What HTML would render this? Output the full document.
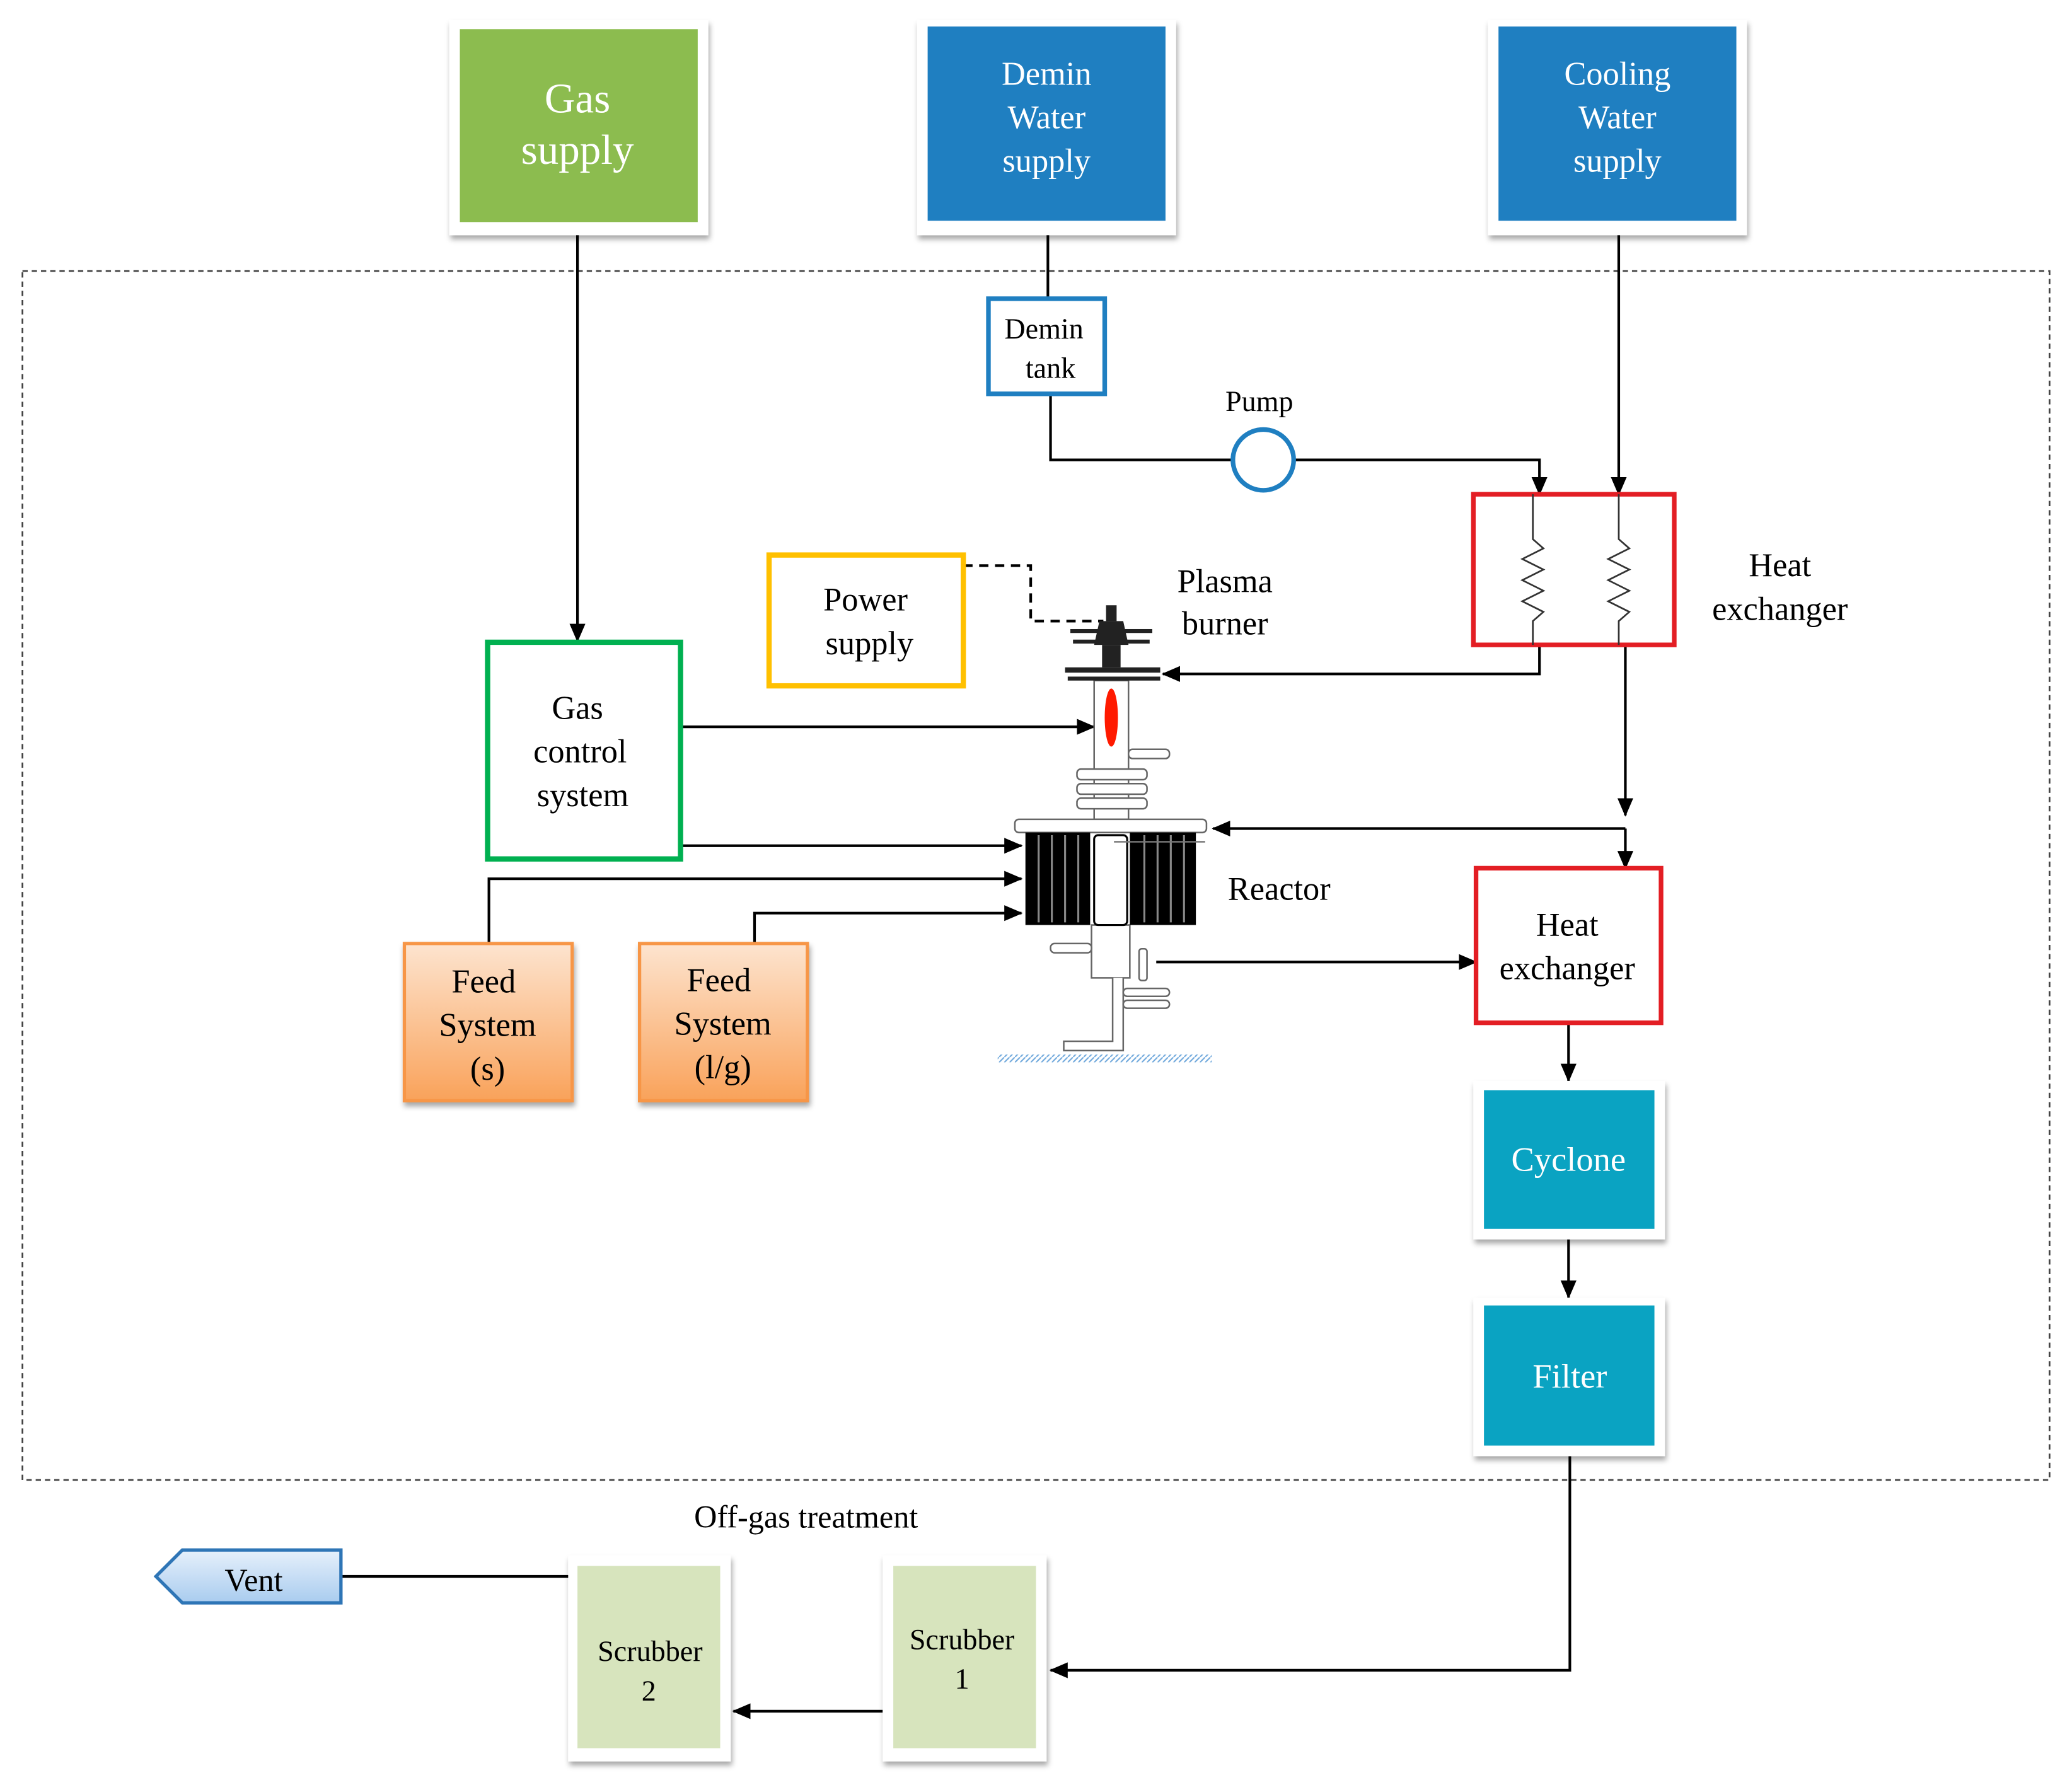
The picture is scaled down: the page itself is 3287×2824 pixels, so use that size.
<!DOCTYPE html>
<html><head><meta charset="utf-8"><style>
html,body{margin:0;padding:0;background:#fff}
svg{display:block}
text{font-family:"Liberation Serif",serif;text-anchor:middle}
</style></head><body>
<svg width="3287" height="2824" viewBox="0 0 1568 1347" xmlns="http://www.w3.org/2000/svg">
<defs>
<marker id="a" markerWidth="14" markerHeight="12" refX="13" refY="6" orient="auto" markerUnits="userSpaceOnUse"><path d="M0,0 L14,6 L0,12 z" fill="#000"/></marker>
<filter id="sh" x="-10%" y="-10%" width="130%" height="130%"><feDropShadow dx="1" dy="3" stdDeviation="2" flood-color="#000" flood-opacity="0.35"/></filter>
<linearGradient id="pe" x1="0" y1="0" x2="0" y2="1"><stop offset="0" stop-color="#fde4cf"/><stop offset="1" stop-color="#f9a25a"/></linearGradient>
<linearGradient id="vb" x1="0" y1="0" x2="0" y2="1"><stop offset="0" stop-color="#e6f0fb"/><stop offset="1" stop-color="#a9ccef"/></linearGradient>
<pattern id="hatch" width="4" height="4" patternUnits="userSpaceOnUse"><path d="M0,4 L4,0" stroke="#6fa8dc" stroke-width="1"/></pattern>
</defs>

<rect x="17" y="205" width="1534" height="915" fill="none" stroke="#444" stroke-width="1.3" stroke-dasharray="4,3"/>

<rect x="340" y="15" width="196" height="163" fill="#fff" filter="url(#sh)"/>
<rect x="348" y="22" width="180" height="146" fill="#8cbc4f"/>
<text x="437" y="85" font-size="32" fill="#fff">Gas</text>
<text x="437" y="124" font-size="32" fill="#fff">supply</text>

<rect x="694" y="15" width="196" height="163" fill="#fff" filter="url(#sh)"/>
<rect x="702" y="20" width="180" height="147" fill="#1f7fc1"/>
<text x="792" y="64" font-size="25" fill="#fff">Demin</text>
<text x="792" y="97" font-size="25" fill="#fff">Water</text>
<text x="792" y="130" font-size="25" fill="#fff">supply</text>

<rect x="1126" y="15" width="196" height="163" fill="#fff" filter="url(#sh)"/>
<rect x="1134" y="20" width="180" height="147" fill="#1f7fc1"/>
<text x="1224" y="64" font-size="25" fill="#fff">Cooling</text>
<text x="1224" y="97" font-size="25" fill="#fff">Water</text>
<text x="1224" y="130" font-size="25" fill="#fff">supply</text>

<g stroke="#000" stroke-width="2" fill="none">
<line x1="437" y1="178" x2="437" y2="485" marker-end="url(#a)"/>
<line x1="793" y1="178" x2="793" y2="226"/>
<polyline points="795,298 795,348 933,348"/>
<polyline points="979,348 1165,348 1165,374" marker-end="url(#a)"/>
<line x1="1225" y1="178" x2="1225" y2="374" marker-end="url(#a)"/>
<polyline points="1165,488 1165,510 880,510" marker-end="url(#a)"/>
<line x1="1230" y1="488" x2="1230" y2="617" marker-end="url(#a)"/>
<polyline points="1230,627 918,627" marker-end="url(#a)"/>
<line x1="1230" y1="627" x2="1230" y2="657" marker-end="url(#a)"/>
<line x1="875" y1="728" x2="1117" y2="728" marker-end="url(#a)"/>
<line x1="1187" y1="774" x2="1187" y2="818" marker-end="url(#a)"/>
<line x1="1187" y1="938" x2="1187" y2="982" marker-end="url(#a)"/>
<polyline points="1188,1102 1188,1264 795,1264" marker-end="url(#a)"/>
<line x1="668" y1="1295" x2="555" y2="1295" marker-end="url(#a)"/>
<line x1="430" y1="1193" x2="258" y2="1193"/>
<line x1="515" y1="550" x2="828" y2="550" marker-end="url(#a)"/>
<line x1="515" y1="640" x2="773" y2="640" marker-end="url(#a)"/>
<polyline points="370,714 370,665 773,665" marker-end="url(#a)"/>
<polyline points="571,714 571,691 773,691" marker-end="url(#a)"/>
<polyline points="729,428 780,428 780,470 835,470" stroke-dasharray="7,5"/>
</g>

<rect x="748" y="226" width="88" height="72" fill="#fff" stroke="#1f7fc1" stroke-width="3.5"/>
<text x="790" y="256" font-size="22">Demin</text>
<text x="795" y="286" font-size="22">tank</text>
<circle cx="956" cy="348" r="23" fill="#fff" stroke="#1f7fc1" stroke-width="3.5"/>
<text x="953" y="311" font-size="22">Pump</text>

<rect x="1115" y="374" width="152" height="114" fill="#fff" stroke="#e31e24" stroke-width="3.5"/>
<g stroke="#333" stroke-width="1.3" fill="none">
<polyline points="1160,374 1160,408 1168,415 1152,423 1168,431 1152,439 1168,447 1152,455 1168,463 1160,470 1160,488"/>
<polyline points="1225,374 1225,408 1233,415 1217,423 1233,431 1217,439 1233,447 1217,455 1233,463 1225,470 1225,488"/>
</g>
<text x="1347" y="436" font-size="25">Heat</text>
<text x="1347" y="469" font-size="25">exchanger</text>

<rect x="1117" y="657" width="140" height="117" fill="#fff" stroke="#e31e24" stroke-width="3.5"/>
<text x="1186" y="708" font-size="25">Heat</text>
<text x="1186" y="741" font-size="25">exchanger</text>

<rect x="1115" y="818" width="145" height="120" fill="#fff" filter="url(#sh)"/>
<rect x="1123" y="825" width="129" height="105" fill="#0aa3c2"/>
<text x="1187" y="886" font-size="26" fill="#fff">Cyclone</text>
<rect x="1115" y="982" width="145" height="120" fill="#fff" filter="url(#sh)"/>
<rect x="1123" y="988" width="129" height="106" fill="#0aa3c2"/>
<text x="1188" y="1050" font-size="26" fill="#fff">Filter</text>

<rect x="668" y="1177" width="124" height="156" fill="#fff" filter="url(#sh)"/>
<rect x="676" y="1185" width="108" height="138" fill="#d7e4bd"/>
<text x="728" y="1248" font-size="22">Scrubber</text>
<text x="728" y="1278" font-size="22">1</text>
<rect x="430" y="1177" width="123" height="156" fill="#fff" filter="url(#sh)"/>
<rect x="437" y="1185" width="108" height="138" fill="#d7e4bd"/>
<text x="492" y="1257" font-size="22">Scrubber</text>
<text x="491" y="1287" font-size="22">2</text>
<text x="610" y="1156" font-size="24">Off-gas treatment</text>

<polygon points="118,1193 138,1173 258,1173 258,1213 138,1213" fill="url(#vb)" stroke="#2e75b6" stroke-width="2.5"/>
<text x="192" y="1204" font-size="24">Vent</text>

<rect x="582" y="420" width="147" height="99" fill="#fff" stroke="#ffc000" stroke-width="4"/>
<text x="655" y="462" font-size="25">Power</text>
<text x="658" y="495" font-size="25">supply</text>
<text x="927" y="448" font-size="25">Plasma</text>
<text x="927" y="480" font-size="25">burner</text>

<rect x="369" y="486" width="146" height="164" fill="#fff" stroke="#00b050" stroke-width="4"/>
<text x="437" y="544" font-size="25">Gas</text>
<text x="439" y="577" font-size="25">control</text>
<text x="441" y="610" font-size="25">system</text>

<rect x="306" y="714" width="127" height="119" fill="url(#pe)" stroke="#f79646" stroke-width="2.5" filter="url(#sh)"/>
<text x="366" y="751" font-size="25">Feed</text>
<text x="369" y="784" font-size="25">System</text>
<text x="369" y="817" font-size="25">(s)</text>
<rect x="484" y="714" width="127" height="119" fill="url(#pe)" stroke="#f79646" stroke-width="2.5" filter="url(#sh)"/>
<text x="544" y="750" font-size="25">Feed</text>
<text x="547" y="783" font-size="25">System</text>
<text x="547" y="816" font-size="25">(l/g)</text>

<text x="968" y="681" font-size="25">Reactor</text>

<g stroke="#666" stroke-width="1.2" fill="#fff">
<rect x="828" y="515" width="26" height="105"/>
<rect x="815" y="582" width="53" height="8" rx="3"/>
<rect x="815" y="593" width="53" height="8" rx="3"/>
<rect x="815" y="604" width="53" height="8" rx="3"/>
<rect x="854" y="567" width="31" height="7" rx="3"/>
<rect x="768" y="620" width="145" height="10" rx="3"/>
<rect x="826" y="700" width="29" height="40"/>
<rect x="795" y="714" width="31" height="7" rx="3"/>
<rect x="862" y="718" width="6" height="24" rx="2"/>
<polyline points="842,740 842,788 805,788 805,795 850,795 850,740"/>
<rect x="850" y="748" width="35" height="6" rx="3"/>
<rect x="850" y="757" width="35" height="6" rx="3"/>
</g>
<rect x="776" y="630" width="49" height="70" fill="#000"/>
<rect x="855" y="630" width="50" height="70" fill="#000"/>
<g stroke="#888" stroke-width="1.5">
<line x1="786" y1="632" x2="786" y2="698"/><line x1="796" y1="632" x2="796" y2="698"/><line x1="806" y1="632" x2="806" y2="698"/><line x1="816" y1="632" x2="816" y2="698"/>
<line x1="866" y1="632" x2="866" y2="698"/><line x1="876" y1="632" x2="876" y2="698"/><line x1="886" y1="632" x2="886" y2="698"/><line x1="896" y1="632" x2="896" y2="698"/>
</g>
<rect x="828" y="632" width="25" height="68" rx="3" fill="#fff" stroke="#000" stroke-width="1.5"/>
<line x1="843" y1="637" x2="912" y2="637" stroke="#777" stroke-width="1.2"/>
<g fill="#222">
<rect x="837" y="458" width="8" height="12"/>
<polygon points="832,470 850,470 854,488 828,488"/>
<rect x="834" y="488" width="14" height="17"/>
<rect x="810" y="476" width="62" height="3"/>
<rect x="812" y="484" width="58" height="3"/>
<rect x="806" y="505" width="72" height="4"/>
<rect x="808" y="512" width="70" height="3"/>
</g>
<ellipse cx="841" cy="543" rx="5" ry="22" fill="#ff1a00"/>
<rect x="755" y="798" width="162" height="6" fill="url(#hatch)"/>
</svg>
</body></html>
